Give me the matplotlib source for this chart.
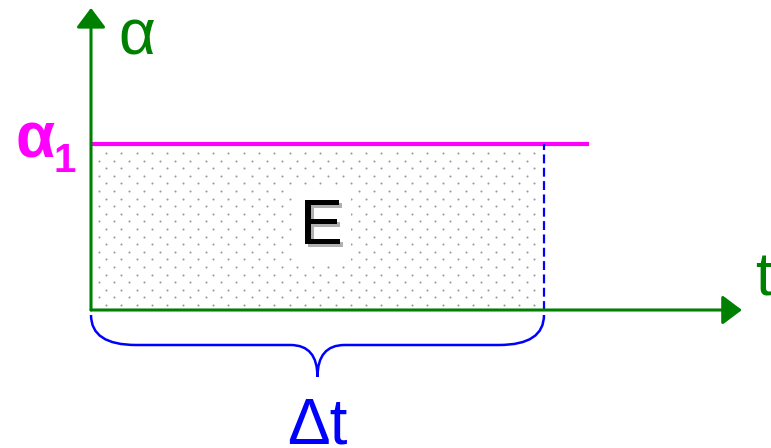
import numpy as np
import matplotlib.pyplot as plt
import matplotlib.patheffects as pe
from matplotlib.path import Path
from matplotlib.patches import PathPatch

plt.rcParams['font.family'] = ['Liberation Sans', 'DejaVu Sans']

# diagram values (time in units of delta t, alpha in units of alpha_1)
t_start = 0.0
delta_t = 1.0
alpha_1 = 1.0
t_line_end = 1.10      # where the alpha_1 line stops
t_axis_end = 1.437     # tip of the t axis
alpha_axis_end = 1.82  # tip of the alpha axis

GREEN = '#008000'
PINK = '#ff00ff'
BLUE = '#0000ff'

# pixel scale of one unit on each axis
sx, sy = 453.0, 166.0

fig = plt.figure(figsize=(7.71, 4.48), dpi=100)
ax = fig.add_axes([0, 0, 1, 1])
ax.set_xlim(-91 / sx, (771 - 91) / sx)
ax.set_ylim((310 - 448) / sy, 310 / sy)
ax.axis('off')

# dotted fill of the area E
rows = np.arange(alpha_1 - 9 / sy, 0.02, -7.6 / sy)
xs, ys = [], []
for i, yv in enumerate(rows):
    x0 = t_start + (15 if i % 2 == 0 else 7.5) / sx
    cols = np.arange(x0, delta_t - 2 / sx, 15.3 / sx)
    xs.extend(cols)
    ys.extend([yv] * len(cols))
ax.scatter(xs, ys, s=2.2, color='#9a9a9a', linewidths=0, zorder=1)

# alpha_1 level
ax.plot([t_start, t_line_end], [alpha_1, alpha_1], color=PINK, lw=3.0,
        solid_capstyle='butt', zorder=3)

# end of the interval
ax.plot([delta_t, delta_t], [0, alpha_1], color=BLUE, lw=1.6,
        dashes=(4, 2), zorder=3)

# axes with arrow heads
arrow = dict(arrowstyle='-|>,head_length=0.6,head_width=0.45', color=GREEN,
             lw=2.2, mutation_scale=20, shrinkA=0, shrinkB=0)
ax.annotate('', xy=(t_axis_end, 0), xytext=(t_start, 0), arrowprops=arrow,
            zorder=4)
ax.annotate('', xy=(t_start, alpha_axis_end), xytext=(t_start, 0),
            arrowprops=arrow, zorder=4)

# brace under the interval
y_top = -5 / sy
y_flat = -35 / sy
y_tip = -67 / sy
rx_end = 45 / sx
rx_mid = 27 / sx
xm = (t_start + delta_t) / 2
verts = [
    (t_start, y_top), (t_start, y_flat), (t_start + rx_end, y_flat),
    (xm - rx_mid, y_flat),
    (xm, y_flat), (xm, y_tip),
    (xm, y_flat), (xm + rx_mid, y_flat),
    (delta_t - rx_end, y_flat),
    (delta_t, y_flat), (delta_t, y_top),
]
codes = [Path.MOVETO, Path.CURVE3, Path.CURVE3, Path.LINETO,
         Path.CURVE3, Path.CURVE3, Path.CURVE3, Path.CURVE3,
         Path.LINETO, Path.CURVE3, Path.CURVE3]
ax.add_patch(PathPatch(Path(verts, codes), fill=False, edgecolor=BLUE,
                       lw=1.8, zorder=3))

# labels
ax.text(xm + 4 / sx, alpha_1 / 2, 'E', fontsize=46, color='black',
        ha='center', va='center', zorder=5,
        bbox=dict(facecolor='white', edgecolor='none', pad=6),
        path_effects=[pe.SimplePatchShadow(offset=(2, -2),
                                           shadow_rgbFace='#b0b0b0', alpha=1),
                      pe.Normal()])
ax.text(27 / sx, 255 / sy, 'α', fontsize=46, color=GREEN,
        ha='left', va='baseline')
ax.text(664 / sx, 15 / sy, 't', fontsize=44, color=GREEN,
        ha='left', va='baseline')
ax.text(-76 / sx, 153 / sy, 'α', fontsize=46, color=PINK, fontweight='bold',
        ha='left', va='baseline')
ax.text(-37 / sx, 138 / sy, '1', fontsize=29, color=PINK, fontweight='bold',
        ha='left', va='baseline')
ax.text(xm, -133 / sy, 'Δt', fontsize=46, color=BLUE,
        ha='center', va='baseline')

fig.savefig('out.png', dpi=100)
